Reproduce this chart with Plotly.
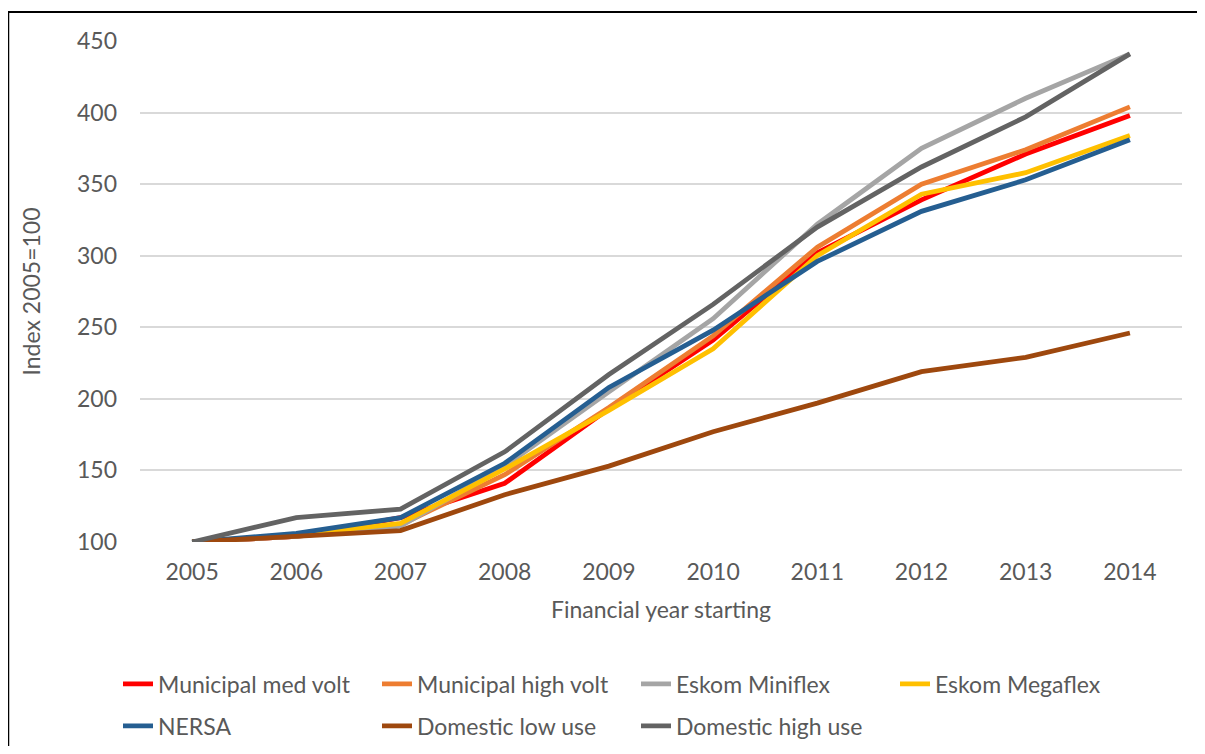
import plotly.graph_objects as go

years = ["2005", "2006", "2007", "2008", "2009", "2010", "2011", "2012", "2013", "2014"]

municipal_med_volt = [100, 104, 117, 141, 193, 241, 302, 339, 371, 398]
municipal_high_volt = [100, 104, 112, 147, 194, 244, 306, 350, 374, 404]
eskom_miniflex = [100, 104, 111, 153, 205, 256, 322, 375, 410, 441]
eskom_megaflex = [100, 105, 113, 151, 192, 235, 300, 343, 358, 384]
nersa = [100, 106, 117, 155, 208, 248, 296, 331, 353, 381]
domestic_low_use = [100, 104, 108, 133, 153, 177, 197, 219, 229, 246]
domestic_high_use = [100, 117, 123, 163, 217, 266, 320, 362, 397, 441]

series = [
    ("Municipal med volt", municipal_med_volt, "#FF0000", "legend"),
    ("Municipal high volt", municipal_high_volt, "#ED7D31", "legend"),
    ("Eskom Miniflex", eskom_miniflex, "#A5A5A5", "legend"),
    ("Eskom Megaflex", eskom_megaflex, "#FFC000", "legend"),
    ("NERSA", nersa, "#255E91", "legend2"),
    ("Domestic low use", domestic_low_use, "#9E480E", "legend2"),
    ("Domestic high use", domestic_high_use, "#636363", "legend2"),
]

FONT = "Lato"
GREY = "#595959"
FS = 23

fig = go.Figure()
for name, vals, color, lg in series:
    fig.add_trace(go.Scatter(
        x=years, y=vals, name=name, mode="lines",
        line=dict(color=color, width=4.8),
        cliponaxis=False, legend=lg,
    ))

# page body has an 8px margin; figure coordinates below are screen - 8,
# and the figure is sized so the page does not overflow the 1205x754 window
OFF = 8
W, H = 1205 - 2 * OFF, 754 - 2 * OFF
L, R, T, B = 140 - OFF, 1182 - OFF, 41 - OFF, 542 - OFF

fig.update_layout(
    width=W, height=H,
    margin=dict(l=L, r=W - R, t=T, b=H - B, autoexpand=False),
    paper_bgcolor="white", plot_bgcolor="white",
    font=dict(family=FONT, size=FS, color=GREY),
    xaxis=dict(
        type="category", range=[-0.5, 9.5],
        showgrid=False, zeroline=False, showline=False,
        ticks="", ticklabelstandoff=14,
        tickfont=dict(family=FONT, size=FS, color=GREY),
        title=dict(text="Financial year starting", standoff=17,
                   font=dict(family=FONT, size=FS, color=GREY)),
        automargin=False,
    ),
    yaxis=dict(
        range=[100, 450], dtick=50, tick0=100,
        showgrid=True, gridcolor="#D9D9D9", gridwidth=1.5,
        zeroline=False, showline=False, ticks="",
        ticklabelstandoff=22,
        tickfont=dict(family=FONT, size=FS, color=GREY),
        title=dict(text="Index 2005=100", standoff=29,
                   font=dict(family=FONT, size=FS, color=GREY)),
        automargin=False,
    ),
    showlegend=True,
    legend=dict(
        orientation="h", xref="container", yref="container",
        x=(118 - OFF) / W, y=1 - (684 - OFF) / H, xanchor="left", yanchor="middle",
        entrywidth=214, entrywidthmode="pixels",
        font=dict(family=FONT, size=FS, color=GREY),
        bgcolor="rgba(0,0,0,0)", itemwidth=30,
    ),
    legend2=dict(
        orientation="h", xref="container", yref="container",
        x=(118 - OFF) / W, y=1 - (726 - OFF) / H, xanchor="left", yanchor="middle",
        entrywidth=214, entrywidthmode="pixels",
        font=dict(family=FONT, size=FS, color=GREY),
        bgcolor="rgba(0,0,0,0)", itemwidth=30,
    ),
)

# outer chart border: only the left and top edges are visible in the reference
pw, ph = R - L, B - T
x_left = (0 - L) / pw
x_far = (1400 - L) / pw
y_top = (B - (12 - OFF)) / ph
y_far = (B - 900) / ph
fig.add_shape(type="line", xref="paper", yref="paper",
              x0=x_left, x1=x_left, y0=y_far, y1=y_top,
              line=dict(color="black", width=2.5), layer="below")
fig.add_shape(type="line", xref="paper", yref="paper",
              x0=x_left, x1=x_far, y0=y_top, y1=y_top,
              line=dict(color="black", width=2), layer="below")

fig.write_html("out.html")
